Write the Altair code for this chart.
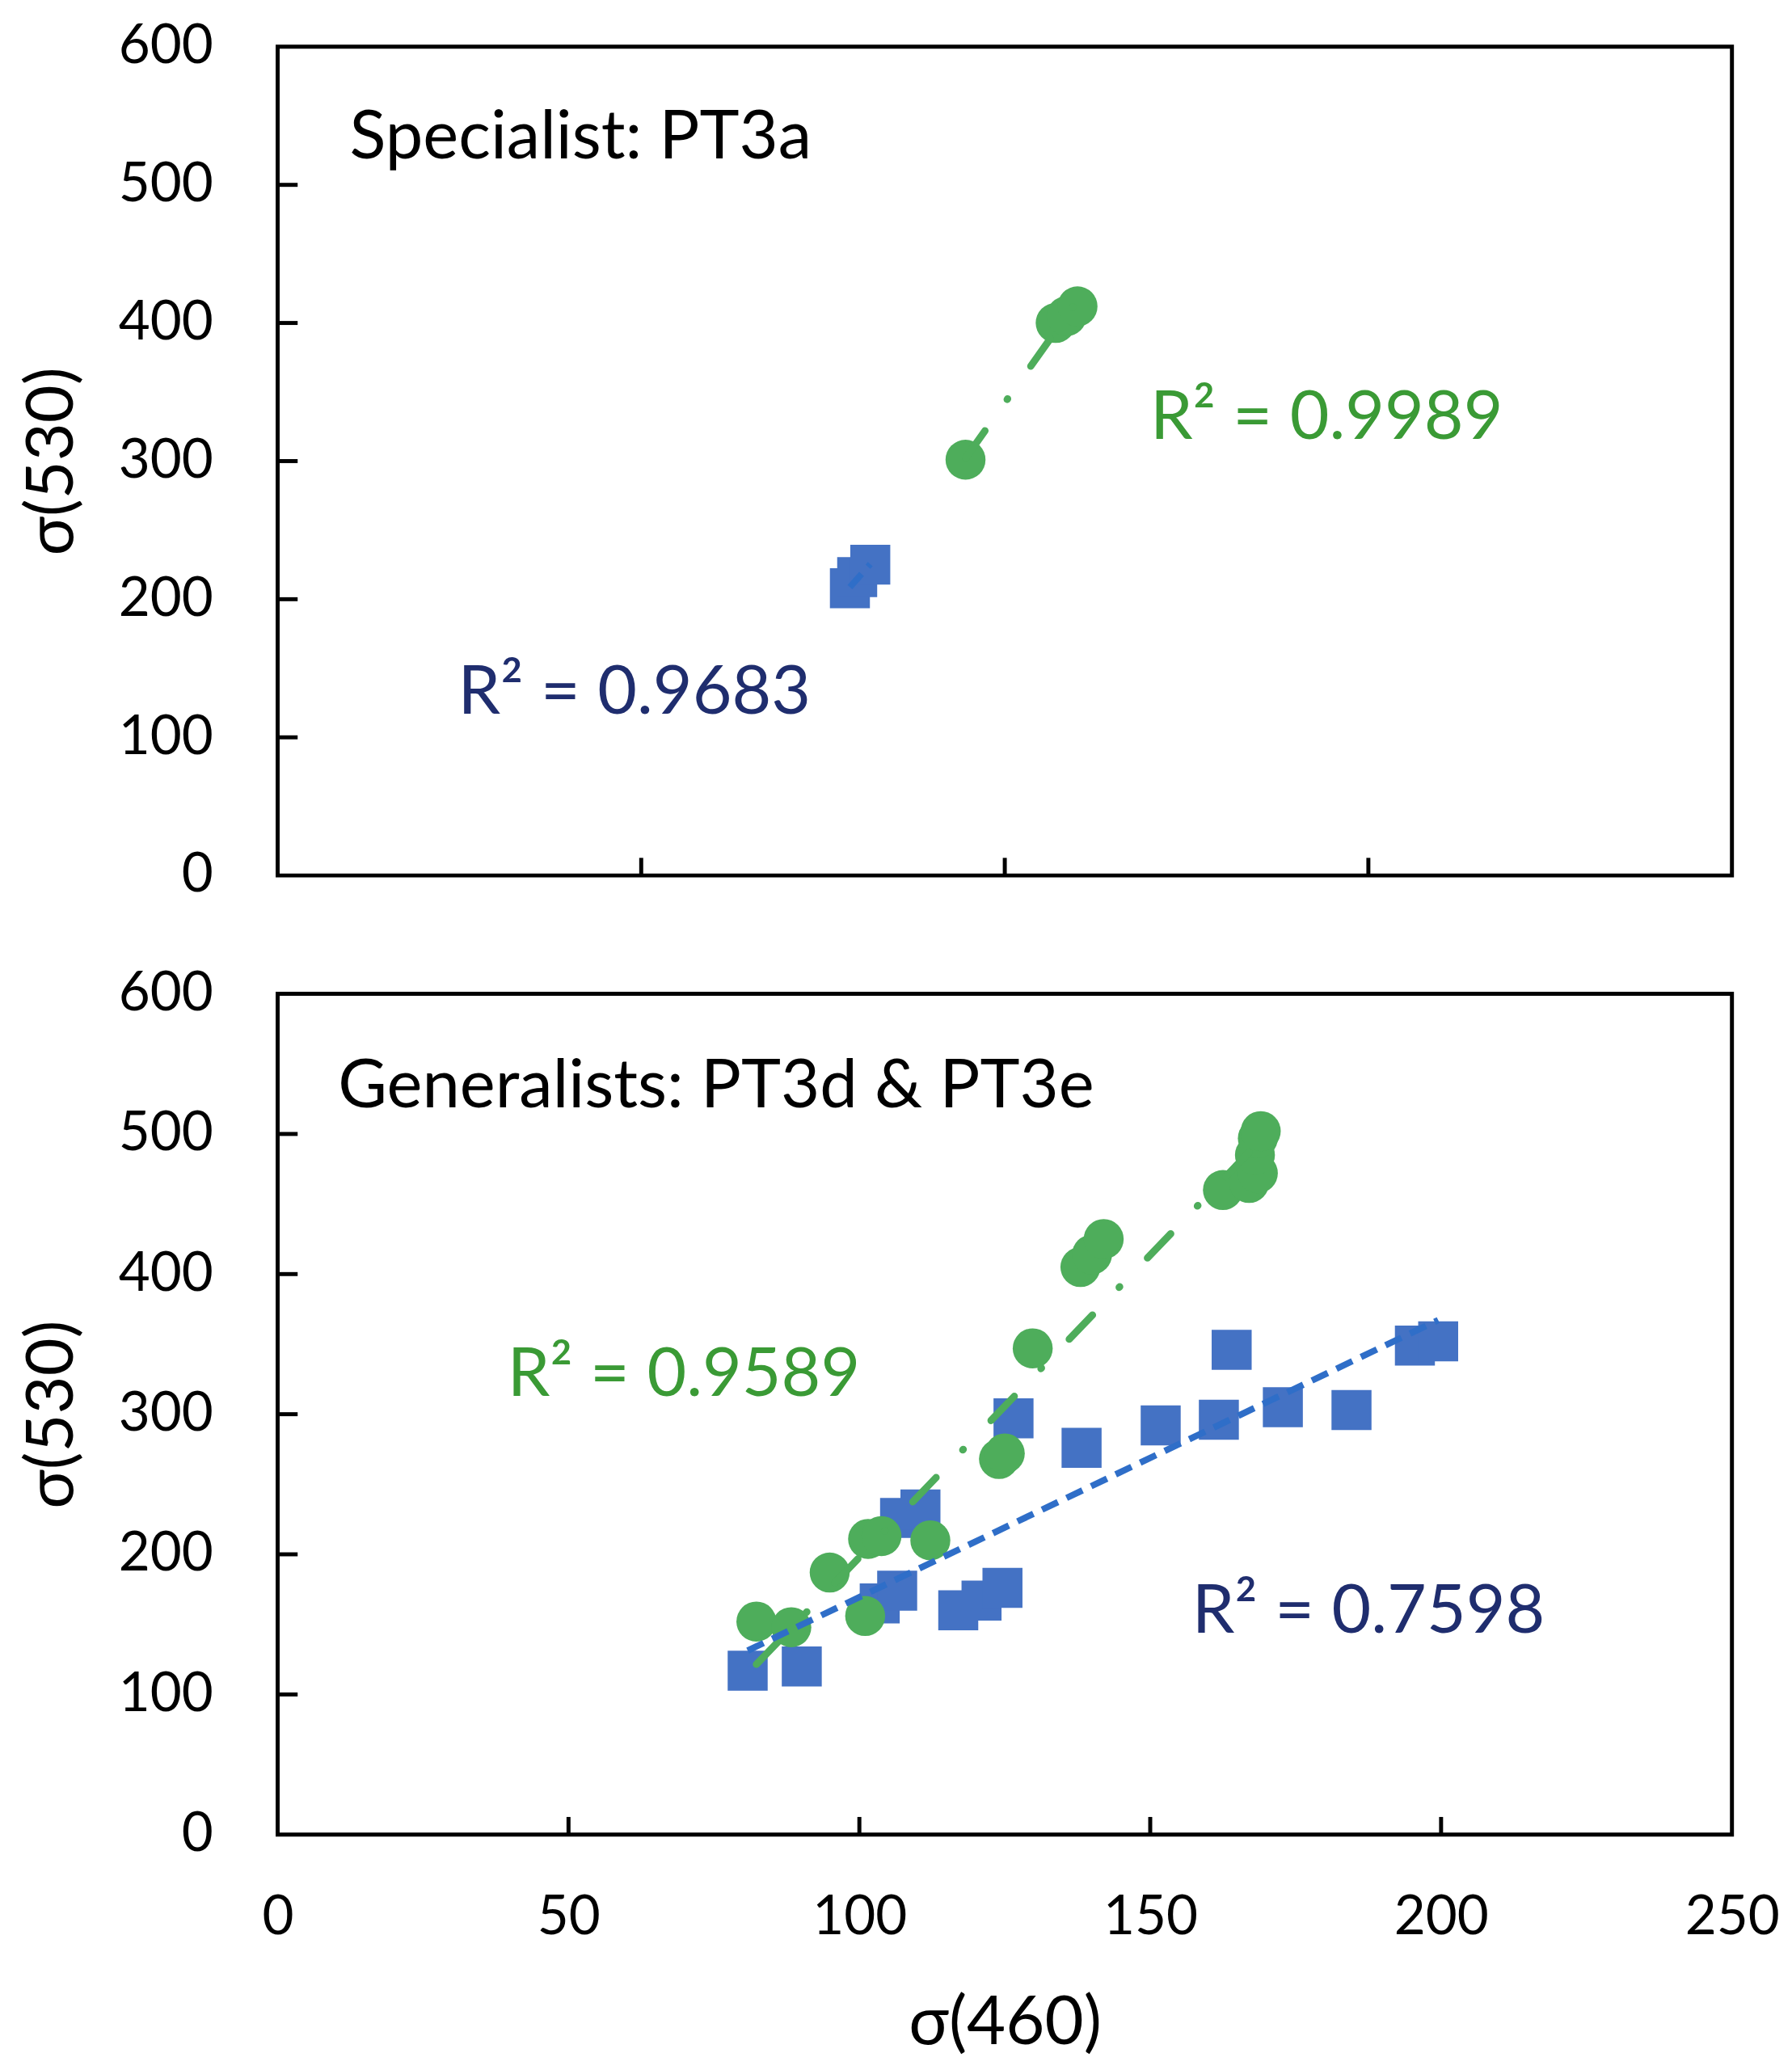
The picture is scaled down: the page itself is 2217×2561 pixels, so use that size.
import altair as alt
import pandas as pd

# ---------------- data ----------------
# Top panel: Specialist PT3a
top_blue_x = [78.7, 79.7, 81.5]
top_blue_y = [208, 216, 225]
top_green_x = [94.6, 107.0, 108.5, 110.0]
top_green_y = [301, 400, 405, 412]

# Bottom panel: Generalists PT3d & PT3e
bot_blue_x = [80.8, 90.1, 103.5, 106.5, 107.0, 110.5, 117.0, 121.0, 124.6,
              126.5, 138.2, 151.8, 161.8, 164.0, 172.8, 184.6, 195.5, 199.5]
bot_blue_y = [117, 120, 165, 174, 226, 232, 160, 167, 176,
              297, 276, 292, 296, 346, 305, 303, 349, 352]
bot_green_x = [82.3, 88.3, 94.9, 101.5, 103.8, 101.0, 112.2, 124.0, 125.0,
               129.8, 138.0, 140.0, 142.0, 162.5, 167.0, 168.5, 168.0, 168.5, 169.0]
bot_green_y = [152, 148, 187, 211, 213, 156, 210, 268, 272,
               347, 405, 414, 425, 460, 465, 472, 485, 497, 502]

y_tick_values = [0, 100, 200, 300, 400, 500, 600]
top_x_inner_ticks = [50, 100, 150]
bot_x_tick_values = [0, 50, 100, 150, 200, 250]
bot_x_inner_ticks = [50, 100, 150, 200]

top_texts = ["Specialist: PT3a", "R\u00b2 = 0.9989", "R\u00b2 = 0.9683"]
top_text_x = [9.9, 120.0, 24.8]
top_text_y = [519, 316, 117]
top_text_kind = ["label", "green", "blue"]

bot_texts = ["Generalists: PT3d & PT3e", "R\u00b2 = 0.9589", "R\u00b2 = 0.7598"]
bot_text_x = [10.4, 39.5, 157.2]
bot_text_y = [519, 313, 144]
bot_text_kind = ["label", "green", "blue"]

# ---------------- styling ----------------
BLUE = "#4472C4"
BLUE_LINE = "#2F6EC8"
GREEN = "#4EAD5B"
GREEN_TEXT = "#3A9A35"
NAVY_TEXT = "#1F2D6E"
FONT = "Lato"
W = 1818
H_TOP = 1036
H_BOT = 1051

kind_colors = {"label": "black", "green": GREEN_TEXT, "blue": NAVY_TEXT}


def panel(bx, by, gx, gy, xdom, inner_x, texts, tx, ty, tk, show_x, H):
    blue_df = pd.DataFrame({"x": bx, "y": by})
    green_df = pd.DataFrame({"x": gx, "y": gy})
    xs = alt.Scale(domain=xdom, nice=False, zero=True)
    ys = alt.Scale(domain=[0, 600], nice=False)
    if show_x:
        xaxis = alt.Axis(values=bot_x_tick_values, title="\u03c3(460)", format="d",
                         ticks=False, domain=False, grid=False,
                         labelFont=FONT, labelFontSize=68, labelColor="black",
                         labelPadding=70, labelFlush=False,
                         titleFont=FONT, titleFontSize=84, titleFontWeight="normal",
                         titleColor="black", titlePadding=58)
    else:
        xaxis = None
    yaxis = alt.Axis(values=y_tick_values, title="\u03c3(530)", format="d",
                     ticks=False, domain=False, grid=False,
                     labelFont=FONT, labelFontSize=68, labelColor="black",
                     labelPadding=81, labelFlush=False,
                     titleFont=FONT, titleFontSize=82, titleFontWeight="normal",
                     titleColor="black", titlePadding=40)

    blue = alt.Chart(blue_df).mark_point(
        shape="square", filled=True, size=2500, color=BLUE, opacity=1, strokeWidth=0
    ).encode(x=alt.X("x:Q", scale=xs, axis=xaxis), y=alt.Y("y:Q", scale=ys, axis=yaxis))

    green = alt.Chart(green_df).mark_point(
        shape="circle", filled=True, size=2500, color=GREEN, opacity=1, strokeWidth=0
    ).encode(x="x:Q", y="y:Q")

    green_trend = alt.Chart(green_df).transform_regression("x", "y").mark_line(
        color=GREEN, strokeWidth=9, strokeDash=[42, 48, 1, 50], strokeCap="round"
    ).encode(x="x:Q", y="y:Q")

    blue_trend = alt.Chart(blue_df).transform_regression("x", "y").mark_line(
        color=BLUE_LINE, strokeWidth=8, strokeDash=[22, 12]
    ).encode(x="x:Q", y="y:Q")

    ytick = alt.Chart(pd.DataFrame({"y": y_tick_values[1:-1]})).mark_rule(
        color="black", strokeWidth=5
    ).encode(y="y:Q", x=alt.value(0), x2=alt.value(25))

    xtick = alt.Chart(pd.DataFrame({"x": inner_x})).mark_rule(
        color="black", strokeWidth=5
    ).encode(x="x:Q", y=alt.value(H), y2=alt.value(H - 22))

    tdf = pd.DataFrame({"x": tx, "y": ty, "t": texts,
                        "c": [kind_colors[k] for k in tk],
                        "s": [84 if k == "label" else 85 for k in tk]})
    text = alt.Chart(tdf).mark_text(
        align="left", baseline="alphabetic", font=FONT
    ).encode(x="x:Q", y="y:Q", text="t:N",
             color=alt.Color("c:N", scale=None),
             size=alt.Size("s:Q", scale=None))

    return alt.layer(blue, green, green_trend, blue_trend, ytick, xtick, text).properties(
        width=W, height=H
    )


top = panel(top_blue_x, top_blue_y, top_green_x, top_green_y, [0, 200],
            top_x_inner_ticks, top_texts, top_text_x, top_text_y, top_text_kind, False, H_TOP)
bottom = panel(bot_blue_x, bot_blue_y, bot_green_x, bot_green_y, [0, 250],
               bot_x_inner_ticks, bot_texts, bot_text_x, bot_text_y, bot_text_kind, True, H_BOT)

chart = alt.vconcat(top, bottom, spacing=74).resolve_scale(
    x="independent", y="independent"
).properties(
    padding={"left": 14, "top": 0, "right": 5, "bottom": 0},
    background="white",
).configure_view(
    stroke="black", strokeWidth=5
)

chart.save("out.html", embed_options={"renderer": "svg", "actions": False})
